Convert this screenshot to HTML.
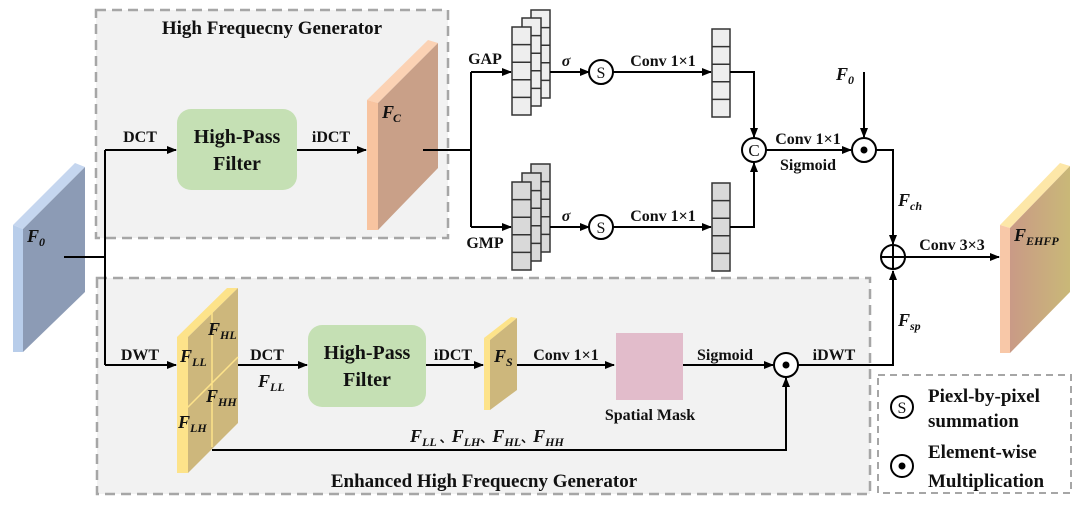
<!DOCTYPE html>
<html><head><meta charset="utf-8"><style>
html,body{margin:0;padding:0;background:#fff;}
svg{display:block;}
svg text{font-family:"Liberation Serif","Times New Roman",serif !important;font-weight:bold;fill:#111;}
.l{font-size:16px;}
.f{font-style:italic;font-size:18px;}
.s{font-size:12px;font-style:italic;}
</style></head><body>
<svg width="1080" height="507" viewBox="0 0 1080 507" xmlns="http://www.w3.org/2000/svg" font-family="Liberation Serif, serif">
<defs>
<marker id="a" markerWidth="10" markerHeight="8" refX="9" refY="4" orient="auto" markerUnits="userSpaceOnUse">
<path d="M0,0 L10,4 L0,8 Z" fill="#000"/></marker>
<linearGradient id="g1" x1="0" x2="1"><stop offset="0" stop-color="#c99a86"/><stop offset="1" stop-color="#c9b878"/></linearGradient>
</defs>
<rect x="96" y="10" width="352" height="228" fill="#f2f2f2" stroke="#a6a6a6" stroke-width="2.5" stroke-dasharray="10,6"/>
<rect x="97" y="278" width="773" height="216" fill="#f2f2f2" stroke="#a6a6a6" stroke-width="2.5" stroke-dasharray="10,6"/>
<rect x="878" y="375" width="193" height="118" fill="#fff" stroke="#a6a6a6" stroke-width="2" stroke-dasharray="7,5"/>
<text x="272" y="34" text-anchor="middle" style="font-size:19px">High Frequecny Generator</text>
<text x="484" y="487" text-anchor="middle" style="font-size:19px">Enhanced High Frequecny Generator</text>

<polygon points="13,225 75,163 85,167 23,229" fill="#c5d6ef"/>
<polygon points="13,225 23,229 23,352 13,352" fill="#b8cdea"/>
<polygon points="23,229 85,167 85,292 23,352" fill="#8c9bb5"/>
<text x="27" y="242" class="f">F</text><text x="39" y="246" class="s">0</text>

<path d="M64,257 H105 M105,150 V365" stroke="#000" stroke-width="2" fill="none"/>
<path d="M105,150 H176" stroke="#000" stroke-width="2" marker-end="url(#a)"/>
<text x="140" y="142" text-anchor="middle" class="l">DCT</text>
<rect x="177" y="109" width="120" height="81" rx="14" fill="#c5e0b4"/>
<text x="237" y="143" text-anchor="middle" style="font-size:20px">High-Pass</text>
<text x="237" y="170" text-anchor="middle" style="font-size:20px">Filter</text>
<path d="M297,150 H366" stroke="#000" stroke-width="2" marker-end="url(#a)"/>
<text x="331" y="142" text-anchor="middle" class="l">iDCT</text>

<polygon points="367,100 428,40 438,43 378,103" fill="#fbd2b4"/>
<polygon points="367,100 378,103 378,230 367,230" fill="#f8c4a0"/>
<polygon points="378,103 438,43 438,168 378,230" fill="#c9a088"/>
<text x="382" y="118" class="f">F</text><text x="393" y="122" class="s">C</text>

<path d="M423,150 H471 M471,72 V227" stroke="#000" stroke-width="2" fill="none"/>
<path d="M471,72 H511" stroke="#000" stroke-width="2" marker-end="url(#a)"/>
<path d="M471,227 H511" stroke="#000" stroke-width="2" marker-end="url(#a)"/>
<text x="485" y="64" text-anchor="middle" class="l">GAP</text>
<text x="485" y="248" text-anchor="middle" class="l">GMP</text>

<g stroke="#333" stroke-width="1.5" fill="#eeeeee">
<rect x="531" y="10" width="19" height="88"/><path d="M531,27.6H550M531,45.2H550M531,62.8H550M531,80.4H550"/>
<rect x="522" y="18" width="19" height="88"/><path d="M522,35.6H541M522,53.2H541M522,70.8H541M522,88.4H541"/>
<rect x="512" y="27" width="19" height="88"/><path d="M512,44.6H531M512,62.2H531M512,79.8H531M512,97.4H531"/>
</g>
<g stroke="#333" stroke-width="1.5" fill="#d9d9d9">
<rect x="531" y="164" width="19" height="88"/><path d="M531,181.6H550M531,199.2H550M531,216.8H550M531,234.4H550"/>
<rect x="522" y="173" width="19" height="88"/><path d="M522,190.6H541M522,208.2H541M522,225.8H541M522,243.4H541"/>
<rect x="512" y="182" width="19" height="88"/><path d="M512,199.6H531M512,217.2H531M512,234.8H531M512,252.4H531"/>
</g>
<path d="M550,72 H589" stroke="#000" stroke-width="2" marker-end="url(#a)"/>
<path d="M550,227 H589" stroke="#000" stroke-width="2" marker-end="url(#a)"/>
<text x="566" y="66" text-anchor="middle" class="l" font-style="italic">σ</text>
<text x="566" y="221" text-anchor="middle" class="l" font-style="italic">σ</text>
<circle cx="601" cy="72" r="12" fill="#fff" stroke="#000" stroke-width="2"/>
<text x="601" y="78" text-anchor="middle" style="font-size:16px;font-weight:normal">S</text>
<circle cx="601" cy="227" r="12" fill="#fff" stroke="#000" stroke-width="2"/>
<text x="601" y="233" text-anchor="middle" style="font-size:16px;font-weight:normal">S</text>
<path d="M613,72 H711" stroke="#000" stroke-width="2" marker-end="url(#a)"/>
<path d="M613,227 H711" stroke="#000" stroke-width="2" marker-end="url(#a)"/>
<text x="663" y="66" text-anchor="middle" class="l">Conv 1×1</text>
<text x="663" y="221" text-anchor="middle" class="l">Conv 1×1</text>
<g stroke="#333" stroke-width="1.5">
<rect x="712" y="29" width="18" height="88" fill="#eeeeee"/><path d="M712,46.6H730M712,64.2H730M712,81.8H730M712,99.4H730"/>
<rect x="712" y="183" width="18" height="88" fill="#d9d9d9"/><path d="M712,200.6H730M712,218.2H730M712,235.8H730M712,253.4H730"/>
</g>
<path d="M730,72 H754 V137" stroke="#000" stroke-width="2" fill="none" marker-end="url(#a)"/>
<path d="M730,227 H754 V163" stroke="#000" stroke-width="2" fill="none" marker-end="url(#a)"/>
<circle cx="754" cy="150" r="12" fill="#fff" stroke="#000" stroke-width="2"/>
<text x="754" y="156" text-anchor="middle" style="font-size:17px;font-weight:normal">C</text>
<path d="M766,150 H851" stroke="#000" stroke-width="2" marker-end="url(#a)"/>
<text x="808" y="144" text-anchor="middle" class="l">Conv 1×1</text>
<text x="808" y="170" text-anchor="middle" class="l">Sigmoid</text>
<text x="836" y="80" class="f">F</text><text x="848" y="84" class="s">0</text>
<path d="M864,72 V137" stroke="#000" stroke-width="2" marker-end="url(#a)"/>
<circle cx="864" cy="150" r="12" fill="#fff" stroke="#000" stroke-width="2"/>
<circle cx="864" cy="150" r="3.5" fill="#000"/>
<path d="M876,150 H893 V244" stroke="#000" stroke-width="2" fill="none" marker-end="url(#a)"/>
<text x="898" y="206" class="f">F</text><text x="910" y="210" class="s">ch</text>
<circle cx="893" cy="257" r="12" fill="#fff" stroke="#000" stroke-width="2"/>
<path d="M881,257H905M893,245V269" stroke="#000" stroke-width="2"/>
<path d="M905,257 H999" stroke="#000" stroke-width="2" marker-end="url(#a)"/>
<text x="952" y="250" text-anchor="middle" class="l">Conv 3×3</text>
<path d="M798,365 H893 V271" stroke="#000" stroke-width="2" fill="none" marker-end="url(#a)"/>
<text x="898" y="326" class="f">F</text><text x="910" y="330" class="s">sp</text>

<polygon points="1000,225 1060,163 1070,166 1010,228" fill="#fde7a8"/>
<polygon points="1000,225 1010,228 1010,353 1000,353" fill="#f8c8a8"/>
<polygon points="1010,228 1070,166 1070,292 1010,353" fill="url(#g1)"/>
<text x="1014" y="241" class="f">F</text><text x="1026" y="245" class="s">EHFP</text>

<path d="M105,365 H176" stroke="#000" stroke-width="2" marker-end="url(#a)"/>
<text x="140" y="360" text-anchor="middle" class="l">DWT</text>
<polygon points="177,337 227,288 238,288 188,337" fill="#fde38a"/>
<polygon points="177,337 188,337 188,473 177,473" fill="#fde38a"/>
<polygon points="188,337 238,288 238,423 188,473" fill="#cdb77c"/>
<path d="M212,312 V447 M177,407 L188,407 L238,357" stroke="#fde38a" stroke-width="1.5" fill="none"/>
<text x="180" y="362" class="f">F</text><text x="192" y="366" class="s">LL</text>
<text x="208" y="335" class="f">F</text><text x="220" y="339" class="s">HL</text>
<text x="206" y="402" class="f">F</text><text x="218" y="406" class="s">HH</text>
<text x="178" y="428" class="f">F</text><text x="190" y="432" class="s">LH</text>
<path d="M238,365 H307" stroke="#000" stroke-width="2" marker-end="url(#a)"/>
<text x="267" y="360" text-anchor="middle" class="l">DCT</text>
<text x="258" y="387" class="f">F</text><text x="270" y="391" class="s">LL</text>
<rect x="308" y="325" width="118" height="82" rx="14" fill="#c5e0b4"/>
<text x="367" y="359" text-anchor="middle" style="font-size:20px">High-Pass</text>
<text x="367" y="386" text-anchor="middle" style="font-size:20px">Filter</text>
<path d="M426,365 H483" stroke="#000" stroke-width="2" marker-end="url(#a)"/>
<text x="453" y="360" text-anchor="middle" class="l">iDCT</text>
<polygon points="484,338 511,317 517,318 490,340" fill="#fde38a"/>
<polygon points="484,338 490,340 490,410 484,410" fill="#fde38a"/>
<polygon points="490,340 517,318 517,390 490,410" fill="#cdb77c"/>
<text x="494" y="362" class="f">F</text><text x="506" y="366" class="s">S</text>
<path d="M517,365 H614" stroke="#000" stroke-width="2" marker-end="url(#a)"/>
<text x="566" y="360" text-anchor="middle" class="l">Conv 1×1</text>
<rect x="616" y="333" width="67" height="67" fill="#e2bccb"/>
<text x="650" y="420" text-anchor="middle" class="l">Spatial Mask</text>
<path d="M683,365 H773" stroke="#000" stroke-width="2" marker-end="url(#a)"/>
<text x="725" y="360" text-anchor="middle" class="l">Sigmoid</text>
<circle cx="786" cy="365" r="12" fill="#fff" stroke="#000" stroke-width="2"/>
<circle cx="786" cy="365" r="3.5" fill="#000"/>
<text x="834" y="360" text-anchor="middle" class="l">iDWT</text>
<path d="M212,450 H786 V378" stroke="#000" stroke-width="2" fill="none" marker-end="url(#a)"/>
<text x="410" y="442" class="f">F<tspan class="s" dy="4">LL</tspan><tspan dy="-4" style="font-style:normal;font-size:12px"> 、</tspan>F<tspan class="s" dy="4">LH</tspan><tspan dy="-4" style="font-style:normal;font-size:12px">、</tspan>F<tspan class="s" dy="4">HL</tspan><tspan dy="-4" style="font-style:normal;font-size:12px">、</tspan>F<tspan class="s" dy="4">HH</tspan></text>

<circle cx="902" cy="407" r="11" fill="#fff" stroke="#000" stroke-width="2"/>
<text x="902" y="413" text-anchor="middle" style="font-size:16px;font-weight:normal">S</text>
<circle cx="902" cy="466" r="11" fill="#fff" stroke="#000" stroke-width="2"/>
<circle cx="902" cy="466" r="3.5" fill="#000"/>
<text x="928" y="402" style="font-size:19px">Piexl-by-pixel</text>
<text x="928" y="427" style="font-size:19px">summation</text>
<text x="928" y="458" style="font-size:19px">Element-wise</text>
<text x="928" y="487" style="font-size:19px">Multiplication</text>
</svg>
</body></html>
